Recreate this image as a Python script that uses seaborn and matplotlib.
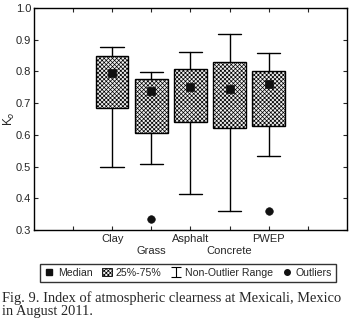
import numpy as np
import pandas as pd
import matplotlib
matplotlib.use("Agg")
import matplotlib.pyplot as plt
import seaborn as sns
from matplotlib.lines import Line2D
from matplotlib.patches import Patch
from matplotlib.path import Path

# Data
surfaces = ["Clay", "Grass", "Asphalt", "Concrete", "PWEP"]
medians = [0.796, 0.737, 0.750, 0.744, 0.759]
q1 = [0.686, 0.605, 0.640, 0.622, 0.627]
q3 = [0.847, 0.777, 0.806, 0.831, 0.800]
whis_lo = [0.498, 0.507, 0.413, 0.361, 0.533]
whis_hi = [0.876, 0.797, 0.862, 0.917, 0.857]
outlier_surface = ["Grass", "PWEP"]
outlier_value = [0.334, 0.360]

sns.set_style("ticks")
plt.rcParams["font.family"] = ["Liberation Sans", "DejaVu Sans"]
plt.rcParams["hatch.color"] = "#9a9a9a"
plt.rcParams["hatch.linewidth"] = 0.5

fig = plt.figure(figsize=(3.53, 3.29), dpi=100)
ax = fig.add_axes([0.096, 0.301, 0.887, 0.675])

pos = {s: i + 2 for i, s in enumerate(surfaces)}

stats = []
for i, s in enumerate(surfaces):
    stats.append(dict(med=medians[i], q1=q1[i], q3=q3[i],
                      whislo=whis_lo[i], whishi=whis_hi[i], fliers=[]))
ax.bxp(stats, positions=[pos[s] for s in surfaces], widths=0.83,
       patch_artist=True, showfliers=False,
       boxprops=dict(facecolor="#f0f0f0", edgecolor="black", linewidth=1.0, hatch="xxxxxxxx"),
       whiskerprops=dict(color="black", linewidth=1.0),
       capprops=dict(color="black", linewidth=1.0),
       medianprops=dict(linewidth=0), capwidths=0.6)

med_df = pd.DataFrame({"x": [pos[s] for s in surfaces], "y": medians})
sns.scatterplot(data=med_df, x="x", y="y", marker="s", s=40, color="#111111",
                edgecolor="#111111", ax=ax, zorder=5)
out_df = pd.DataFrame({"x": [pos[s] for s in outlier_surface], "y": outlier_value})
sns.scatterplot(data=out_df, x="x", y="y", marker="o", s=30, color="#111111",
                edgecolor="#111111", ax=ax, zorder=5)

ax.set_xlim(0, 8)
ax.set_ylim(0.3, 1.0)
ax.set_xticks(range(1, 8))
ax.set_xticklabels(["", "Clay", "\nGrass", "Asphalt", "\nConcrete", "PWEP", ""], fontsize=8)
ax.set_yticks(np.arange(0.3, 1.01, 0.1))
ax.set_yticklabels([f"{v:.1f}" for v in np.arange(0.3, 1.01, 0.1)], fontsize=8)
ax.tick_params(direction="in", top=True, right=True, length=3, width=0.8, pad=2)
ax.tick_params(axis="x", pad=3)
ax.set_xlabel("")
ax.set_ylabel("K$_o$", fontsize=8.5, va="center")
ax.yaxis.set_label_coords(-0.078, 0.5)
for sp in ax.spines.values():
    sp.set_linewidth(1.0)
    sp.set_color("black")

ibeam = Path([(-1, 1), (1, 1), (0, 1), (0, -1), (-1, -1), (1, -1)],
             [Path.MOVETO, Path.LINETO, Path.MOVETO, Path.LINETO, Path.MOVETO, Path.LINETO])
handles = [
    Line2D([], [], marker="s", color="#111111", linestyle="none", markersize=5),
    Patch(facecolor="#f0f0f0", edgecolor="black", hatch="xxxxxxxx", linewidth=0.6),
    Line2D([], [], marker=ibeam, color="black", linestyle="none", markersize=7, markeredgewidth=0.8),
    Line2D([], [], marker="o", color="#111111", linestyle="none", markersize=4),
]
labels = ["Median", "25%-75%", "Non-Outlier Range", "Outliers"]
leg = fig.legend(handles, labels, loc="center", bbox_to_anchor=(0.533, 0.17), ncol=4,
                 fontsize=7.6, frameon=True, fancybox=False, edgecolor="black",
                 handlelength=1.0, handletextpad=0.3, columnspacing=0.9,
                 borderpad=0.35, handleheight=0.8)
leg.get_frame().set_linewidth(1.0)

fig.text(0.006, 0.075, "Fig. 9. Index of atmospheric clearness at Mexicali, Mexico\nin August 2011.",
         fontsize=10.4, family=["Liberation Serif", "DejaVu Serif"], va="center", ha="left",
         linespacing=1.0)

fig.savefig("out.png", dpi=100, facecolor="white")
